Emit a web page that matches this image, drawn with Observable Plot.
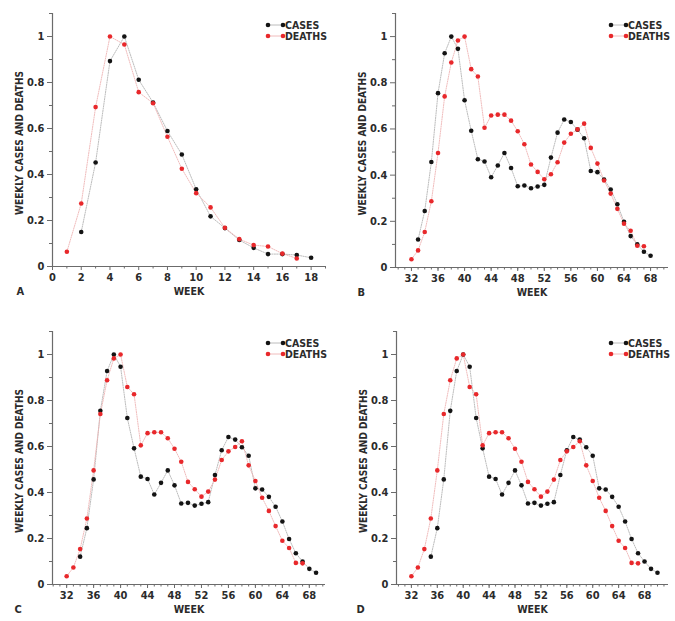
<!DOCTYPE html>
<html><head><meta charset="utf-8">
<script src="https://cdn.jsdelivr.net/npm/d3@7"></script>
<script src="https://cdn.jsdelivr.net/npm/@observablehq/plot@0.6"></script>
<style>
body{margin:0;background:#fff;}
#wrap{position:relative;width:675px;height:621px;overflow:hidden;}
.panel{position:absolute;}
</style>
</head><body><div id="wrap"></div>
<script>
// ---- Data ----
const seriesNames = ["CASES", "DEATHS"];
const panelLetters = ["A", "B", "C", "D"];

// Panel A
const weeksCasesA = [2,3,4,5,6,7,8,9,10,11,12,13,14,15,16,17,18];
const casesA = [0.150,0.452,0.893,1.0,0.812,0.713,0.589,0.487,0.336,0.218,0.167,0.115,0.081,0.054,0.054,0.050,0.038];
const weeksDeathsA = [1,2,3,4,5,6,7,8,9,10,11,12,13,14,15,16,17];
const deathsA = [0.064,0.274,0.693,1.0,0.965,0.758,0.710,0.564,0.425,0.319,0.257,0.168,0.119,0.093,0.087,0.056,0.035];

// Panels B, C, D (same weekly curves, cases shown with different week alignment)
const casesBCD = [0.121,0.245,0.457,0.755,0.928,1.0,0.947,0.724,0.592,0.469,
                  0.459,0.391,0.442,0.496,0.431,0.352,0.355,0.343,0.351,0.358,
                  0.476,0.584,0.641,0.630,0.597,0.560,0.418,0.413,0.381,0.338,
                  0.274,0.198,0.136,0.100,0.068,0.051];
const weeksCasesB = [33,34,35,36,37,38,39,40,41,42,43,44,45,46,47,48,49,50,51,52,53,54,55,56,57,58,59,60,61,62,63,64,65,66,67,68];
const weeksCasesC = [34,35,36,37,38,39,40,41,42,43,44,45,46,47,48,49,50,51,52,53,54,55,56,57,58,59,60,61,62,63,64,65,66,67,68,69];
const weeksCasesD = [35,36,37,38,39,40,41,42,43,44,45,46,47,48,49,50,51,52,53,54,55,56,57,58,59,60,61,62,63,64,65,66,67,68,69,70];
const deathsBCD = [0.036,0.074,0.154,0.287,0.496,0.741,0.888,0.983,1.0,0.859,
                   0.827,0.605,0.658,0.662,0.662,0.636,0.590,0.534,0.446,0.414,
                   0.382,0.404,0.456,0.541,0.579,0.598,0.623,0.518,0.450,0.377,
                   0.320,0.254,0.190,0.159,0.094,0.092];
const weeksDeathsBCD = [32,33,34,35,36,37,38,39,40,41,42,43,44,45,46,47,48,49,50,51,52,53,54,55,56,57,58,59,60,61,62,63,64,65,66,67];

// Tick labels
const yTicks = [0,0.2,0.4,0.6,0.8,1];
const yTickLabels = ["0","0.2","0.4","0.6","0.8","1"];
const yMinor = [0.1,0.3,0.5,0.7,0.9,1.1];
const xTicksA = [0,2,4,6,8,10,12,14,16,18];
const xMinorA = [1,3,5,7,9,11,13,15,17,19];
const xTicksBCD = [32,36,40,44,48,52,56,60,64,68];
const xMinorBCD = d3.range(30, 72);

const yLabel = "WEEKLY CASES AND DEATHS";
const xLabel = "WEEK";

// ---- Style ----
const FONT = '"DejaVu Sans Condensed","Liberation Sans Narrow","Liberation Sans",Arial,sans-serif';
const CASE_COLOR = "#141414", DEATH_COLOR = "#e8282b";
const CASE_LINE = "#b4b4b4", DEATH_LINE = "#eeb4b4";
const AXIS = "#6b6b6b", TEXT = "#2b2b2b";

function toRows(weeks, vals, series) { return weeks.map((w, i) => ({week: w, value: vals[i], series})); }

function makePanel(cfg) {
  const cases = toRows(cfg.casesW, cfg.casesV, seriesNames[0]);
  const deaths = toRows(cfg.deathsW, cfg.deathsV, seriesNames[1]);
  const lineStyle = {x: "week", y: "value", strokeWidth: 0.9, strokeDasharray: "1.2,1.2"};
  const chart = Plot.plot({
    width: cfg.width, height: cfg.height,
    marginLeft: cfg.ml, marginRight: cfg.mr, marginTop: cfg.mt, marginBottom: cfg.mb,
    style: {fontFamily: FONT, fontSize: "11px", fontWeight: "bold", color: TEXT, background: "white"},
    x: {domain: cfg.xDomain, label: null},
    y: {domain: [0, 1.1], label: null},
    marks: [
      Plot.axisY({ticks: yTicks, tickSize: 5, tickPadding: 3, label: null, stroke: AXIS, fill: TEXT, fontWeight: "bold",
                  tickFormat: d => yTickLabels[yTicks.indexOf(d)]}),
      Plot.axisY({ticks: yMinor, tickSize: 3, tickFormat: () => "", label: null, stroke: AXIS}),
      Plot.axisX({ticks: cfg.xTicks, tickSize: 4, tickPadding: 3, label: null, stroke: AXIS, fill: TEXT, fontWeight: "bold"}),
      Plot.axisX({ticks: cfg.xMinor, tickSize: 2.5, tickFormat: () => "", label: null, stroke: AXIS}),
      Plot.ruleY([0], {stroke: AXIS, strokeWidth: 1.2}),
      Plot.ruleX([cfg.xDomain[0]], {stroke: AXIS, strokeWidth: 1.2}),
      Plot.line(cases, {...lineStyle, stroke: CASE_LINE}),
      Plot.line(deaths, {...lineStyle, stroke: DEATH_LINE}),
      Plot.dot(cases, {x: "week", y: "value", r: 2.3, fill: CASE_COLOR, stroke: "none"}),
      Plot.dot(deaths, {x: "week", y: "value", r: 2.3, fill: DEATH_COLOR, stroke: "none"}),
      Plot.text([yLabel], {frameAnchor: "left", textAnchor: "middle", rotate: -90, dx: -33, dy: 3, fontSize: 10, fill: TEXT, fontWeight: "bold"}),
      Plot.text([xLabel], {frameAnchor: "bottom", dy: cfg.labelDy, fontSize: 10.5, fill: TEXT, fontWeight: "bold"}),
      Plot.text([cfg.letter], {frameAnchor: "bottom-left", dx: cfg.letterDx, dy: cfg.labelDy, textAnchor: "start", fontSize: 11, fill: TEXT, fontWeight: "bold"})
    ]
  });
  // legend (inside top-right of the frame)
  const svg = d3.select(chart);
  const right = cfg.width - cfg.mr, top = cfg.mt;
  const g = svg.append("g").attr("font-family", FONT).attr("font-weight", "bold").attr("font-size", 10.5).attr("text-anchor", "start");
  [[seriesNames[0], CASE_COLOR, CASE_LINE, 12], [seriesNames[1], DEATH_COLOR, DEATH_LINE, 23]].forEach(([name, c, lc, dy]) => {
    const y = top + dy;
    g.append("line").attr("x1", right - 57).attr("x2", right - 42).attr("y1", y).attr("y2", y)
      .attr("stroke", lc).attr("stroke-width", 0.9);
    g.append("circle").attr("cx", right - 57).attr("cy", y).attr("r", 2.3).attr("fill", c);
    g.append("circle").attr("cx", right - 42).attr("cy", y).attr("r", 2.3).attr("fill", c);
    g.append("text").attr("x", right - 40).attr("y", y).attr("dy", "0.35em").attr("fill", TEXT).text(name);
  });
  const div = document.createElement("div");
  div.className = "panel";
  div.style.left = cfg.left + "px"; div.style.top = cfg.top + "px";
  div.appendChild(chart);
  document.getElementById("wrap").appendChild(div);
}

makePanel({letter: panelLetters[0], left: 0, top: 0, width: 337, height: 305, ml: 52, mr: 12, mt: 13, mb: 39,
  xDomain: [0, 19], xTicks: xTicksA, xMinor: xMinorA, labelDy: 28, letterDx: -36,
  casesW: weeksCasesA, casesV: casesA, deathsW: weeksDeathsA, deathsV: deathsA});
makePanel({letter: panelLetters[1], left: 337, top: 0, width: 338, height: 305, ml: 58, mr: 7, mt: 13, mb: 38,
  xDomain: [29.6, 70.7], xTicks: xTicksBCD, xMinor: xMinorBCD.filter(w => w <= 70), labelDy: 28, letterDx: -38,
  casesW: weeksCasesB, casesV: casesBCD, deathsW: weeksDeathsBCD, deathsV: deathsBCD});
makePanel({letter: panelLetters[2], left: 0, top: 310, width: 337, height: 311, ml: 52, mr: 12, mt: 21, mb: 37,
  xDomain: [29.9, 70.4], xTicks: xTicksBCD, xMinor: xMinorBCD.filter(w => w <= 70), labelDy: 28, letterDx: -38,
  casesW: weeksCasesC, casesV: casesBCD, deathsW: weeksDeathsBCD, deathsV: deathsBCD});
makePanel({letter: panelLetters[3], left: 337, top: 310, width: 338, height: 311, ml: 59, mr: 7, mt: 21, mb: 37,
  xDomain: [29.7, 71.7], xTicks: xTicksBCD, xMinor: xMinorBCD, labelDy: 28, letterDx: -40,
  casesW: weeksCasesD, casesV: casesBCD, deathsW: weeksDeathsBCD, deathsV: deathsBCD});
</script>
</body></html>
